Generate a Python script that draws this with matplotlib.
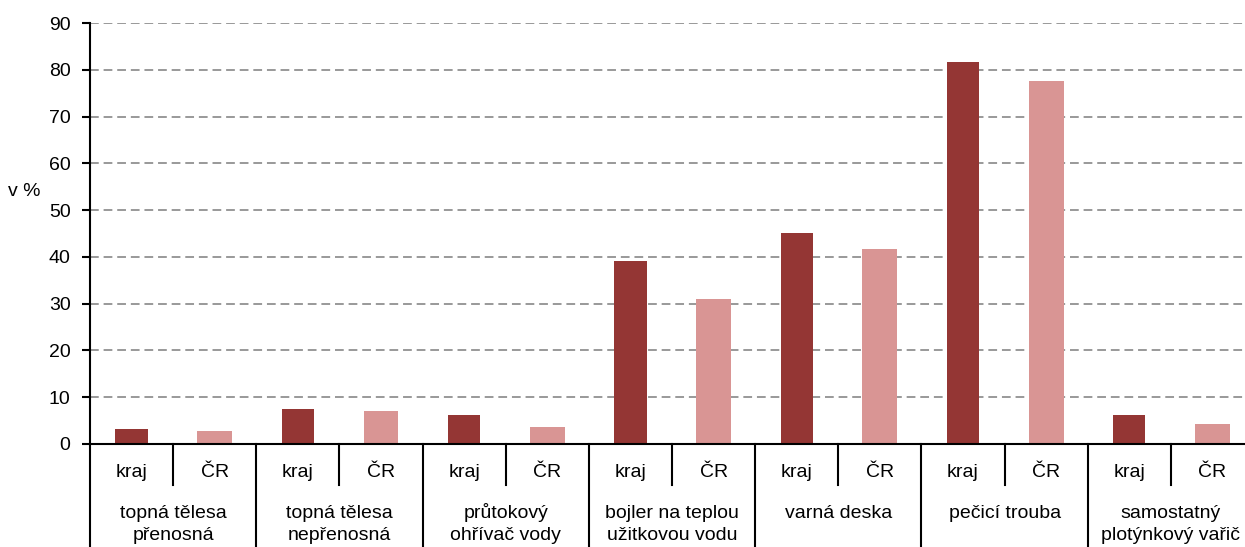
import numpy as np
import matplotlib.pyplot as plt

# data
skupiny = ["topná tělesa\npřenosná", "topná tělesa\nnepřenosná", "průtokový\nohřívač vody",
           "bojler na teplou\nužitkovou vodu", "varná deska", "pečicí trouba",
           "samostatný\nplotýnkový vařič"]
podskupiny = ["kraj", "ČR"]
kraj = [3.1, 7.4, 6.1, 39.2, 45.2, 81.6, 6.1]
cr = [2.7, 7.0, 3.6, 31.0, 41.7, 77.7, 4.3]
yticks = np.arange(0, 91, 10)

plt.rcParams['font.family'] = ['Liberation Sans', 'DejaVu Sans']
fs = 14

W, H = 1245, 547
fig = plt.figure(figsize=(W / 100, H / 100), dpi=100)
ax = fig.add_axes([90 / W, 103 / H, 1164 / W, 421 / H])

n = len(skupiny)
xk = np.arange(n) * 2
xc = xk + 1
ax.bar(xk, kraj, width=0.39, color="#943634", zorder=3)
ax.bar(xc, cr, width=0.42, color="#D99594", zorder=3)

ax.set_xlim(-0.5, 2 * n - 0.5)
ax.set_ylim(0, 90)
ax.set_yticks(yticks)
ax.yaxis.grid(True, color="#999999", linestyle=(0, (4.5, 2.5)), linewidth=1.4)
ax.set_axisbelow(True)
for s in ["top", "right"]:
    ax.spines[s].set_visible(False)
ax.spines["left"].set_linewidth(1.5)
ax.spines["bottom"].set_linewidth(1.5)
ax.spines["bottom"].set_zorder(4)
ax.set_xticks([])
ax.tick_params(axis="y", length=6, width=1.5, labelsize=fs, pad=8)

# dvouurovnova osa x
tr = ax.get_xaxis_transform()
y_row1 = -0.097
y_bottom = -0.26
radek = 22 / 421
for i in range(n):
    # oddelovac kraj / CR
    ax.plot([2 * i + 0.5] * 2, [0, y_row1], transform=tr, color="black", lw=1.5, clip_on=False)
    # oddelovac skupin
    ax.plot([2 * i - 0.5] * 2, [0, y_bottom], transform=tr, color="black", lw=1.5, clip_on=False)
    for j, lab in enumerate(podskupiny):
        ax.text(2 * i + j, -0.078, lab, transform=tr, ha="center", va="baseline", fontsize=fs)
    for k, radka in enumerate(skupiny[i].split("\n")):
        ax.text(2 * i + 0.5, -0.176 - k * radek, radka, transform=tr, ha="center",
                va="baseline", fontsize=fs)

fig.text(8 / W, 1 - 192 / H, "v %", ha="left", va="center", fontsize=fs)

fig.savefig("out.png", dpi=100)
